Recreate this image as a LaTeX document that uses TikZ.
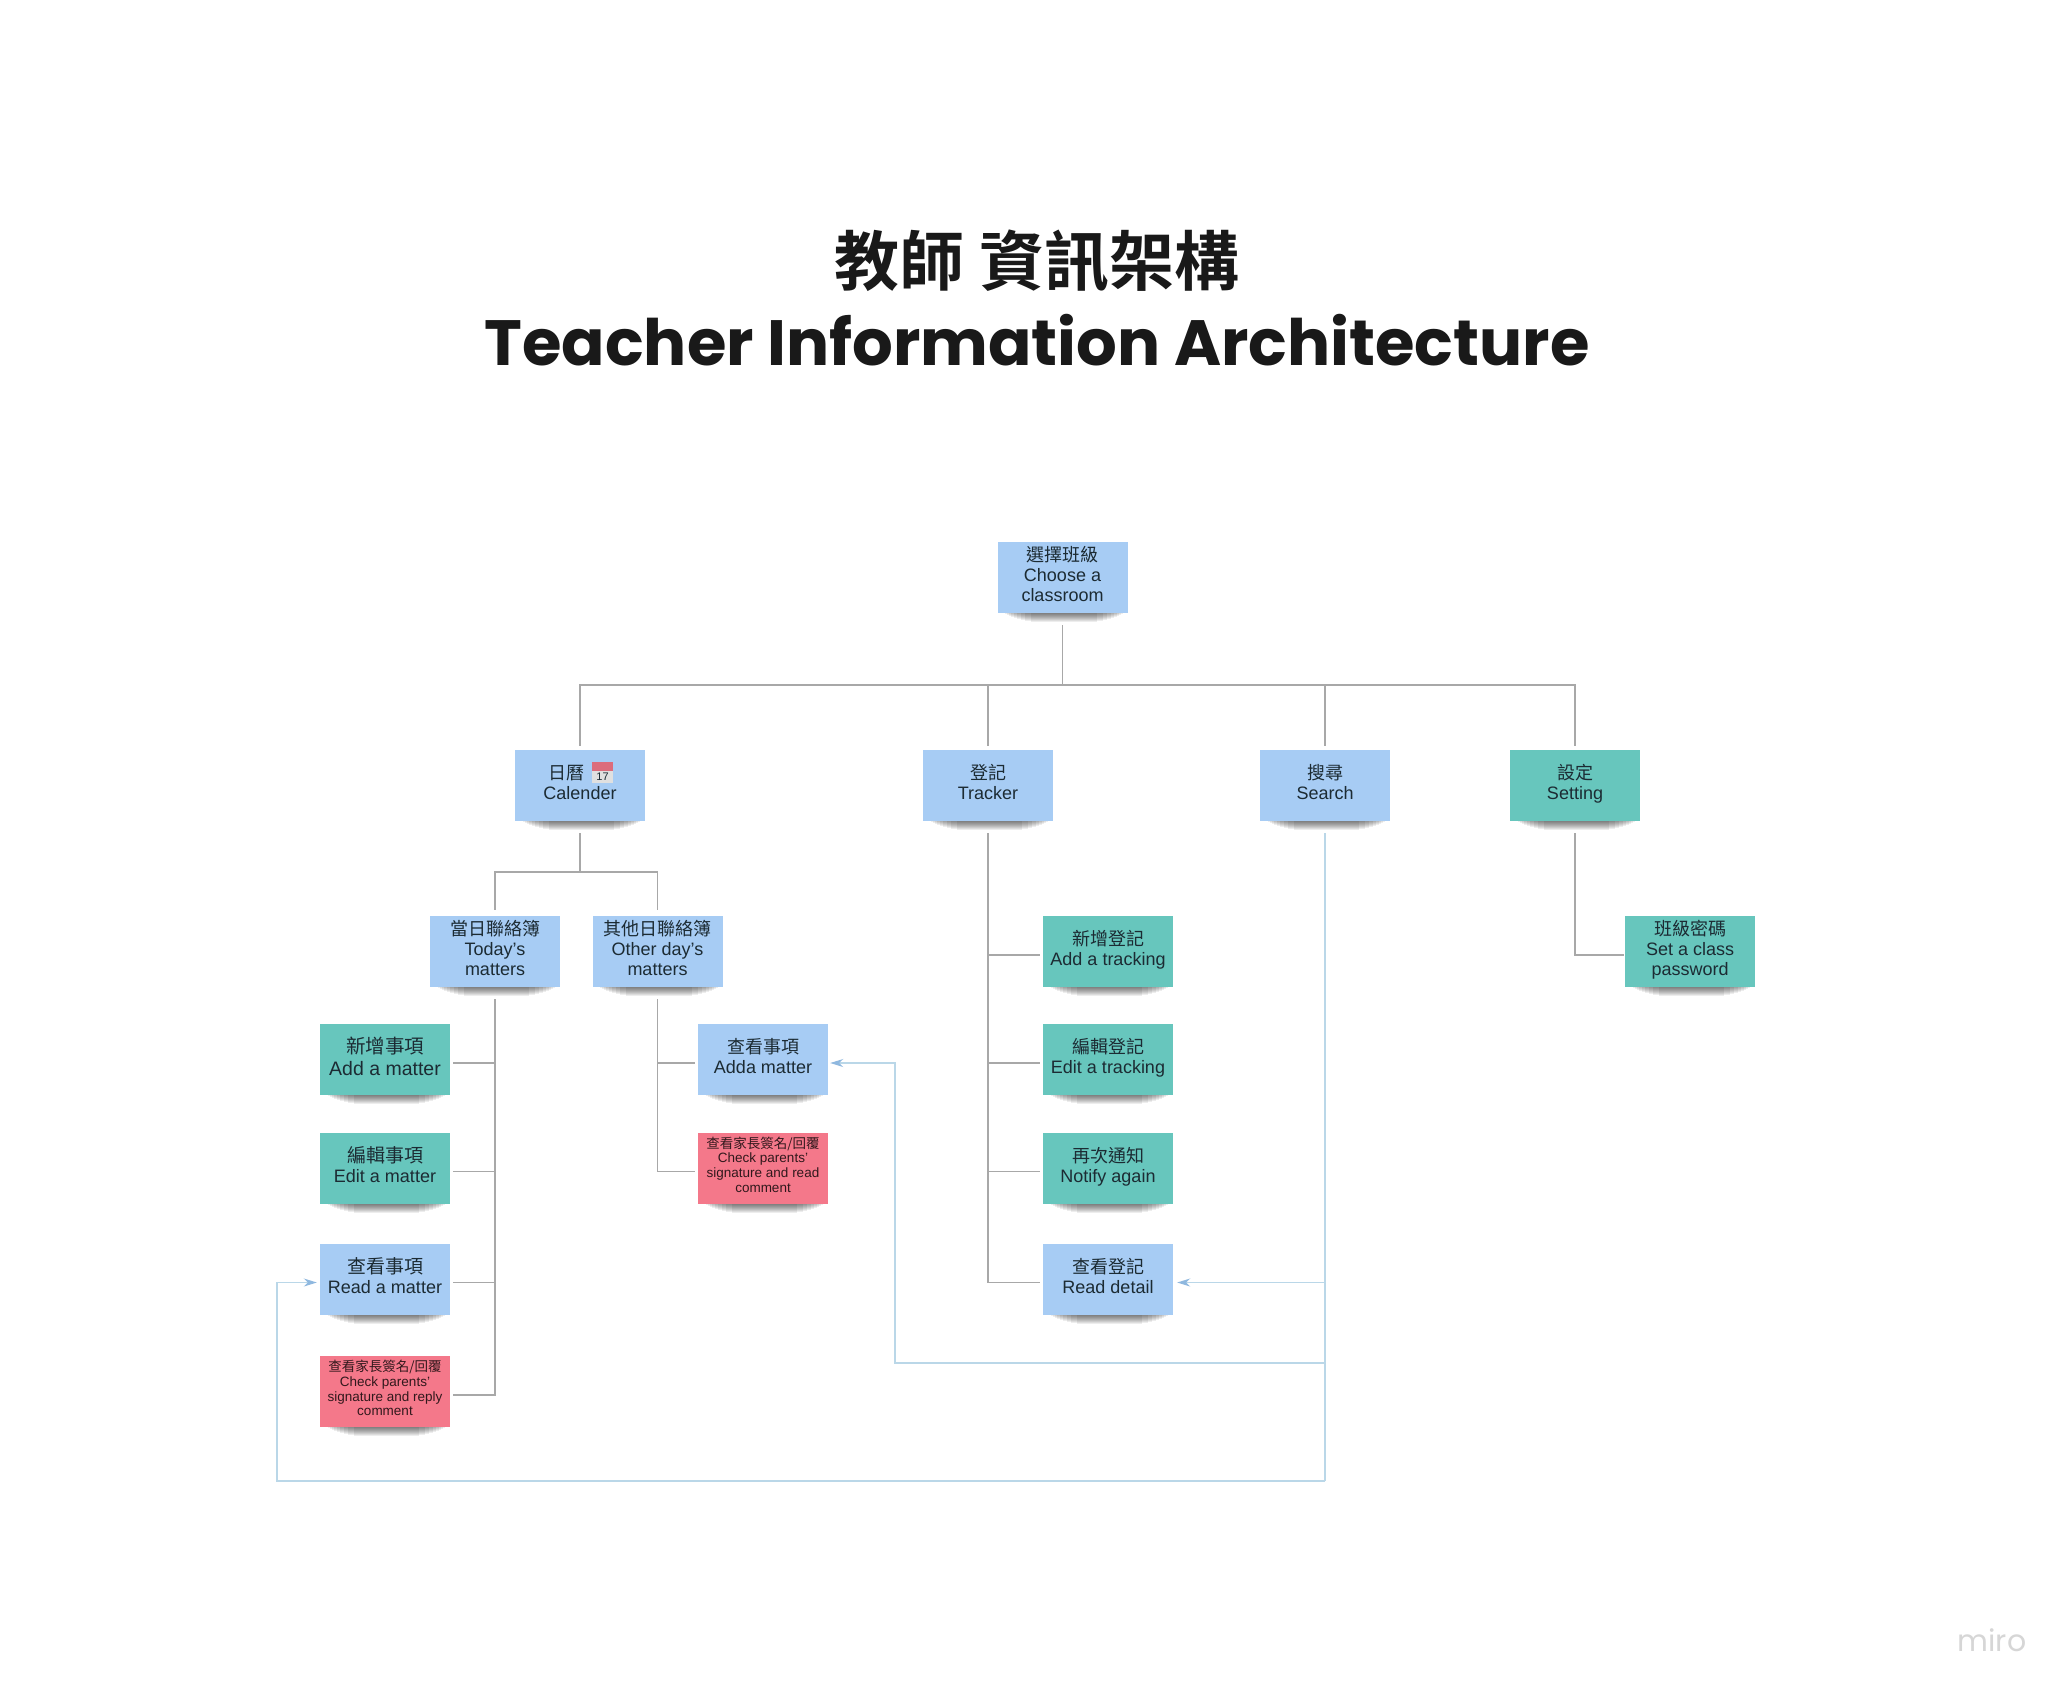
\documentclass[tikz,border=0pt]{standalone}
\usepackage{fontspec}
\setmainfont{Liberation Sans}
\newfontfamily\cjk{Noto Sans CJK TC}
\newfontfamily\cjkb{Noto Sans CJK TC}[BoldFont={Noto Sans CJK TC Bold}]
\newfontfamily\titlefont{Poppins}[BoldFont={Poppins Bold}]
\newfontfamily\wmfont{Poppins}
\usetikzlibrary{arrows.meta,backgrounds}
\definecolor{stickyblue}{HTML}{A7CCF4}
\definecolor{stickyteal}{HTML}{67C6BD}
\definecolor{stickypink}{HTML}{F4788A}
\definecolor{inkdark}{HTML}{1C2B33}
\definecolor{linegrey}{HTML}{A8A8A8}
\definecolor{lineblue}{HTML}{BAD7E8}
\definecolor{tipblue}{HTML}{8FB8DF}
\tikzset{
  x=1pt,y=1pt,
  sticky/.style={minimum width=130pt,minimum height=71pt,inner sep=0pt,align=center,text=inkdark,
    font=\fontsize{18}{20}\selectfont,
    execute at end node={\rule[-7pt]{0pt}{7pt}}},
  bluenote/.style={sticky,fill=stickyblue},
  tealnote/.style={sticky,fill=stickyteal},
  pinknote/.style={sticky,fill=stickypink,text=black!80!stickypink,font=\fontsize{13.5}{14.6}\selectfont},
  largetext/.style={font=\fontsize{19.5}{22}\selectfont},
  gline/.style={draw=linegrey,line width=1.25pt},
  bline/.style={draw=lineblue,line width=1.25pt},
  barrow/.style={bline,-{Stealth[length=13pt,width=8pt,color=tipblue]}},
  softshadow/.style={fill=black,opacity=.07},
}
\begin{document}
\begin{tikzpicture}
\useasboundingbox (0,0) rectangle (2072,-1698);

% title
\node[font=\fontsize{65}{70}\selectfont\cjkb\bfseries,text=black!90] (titlezh) at (1037,-261) {教師 資訊架構};
\node[font=\fontsize{64}{70}\selectfont\titlefont\bfseries,text=black!90] (titleen) at (1037,-340) {Teacher Information Architecture};

% level 0, 1
\node[bluenote] (choose) at (1062.5,-577.5) {{\cjk 選擇班級}\\Choose a\\classroom};
\node[bluenote] (calendar) at (580,-785.5) {{\cjk 日曆}\hspace{27pt}\mbox{}\\Calender};
\node[bluenote] (tracker) at (988,-785.5) {{\cjk 登記}\\Tracker};
\node[bluenote] (search) at (1325,-785.5) {{\cjk 搜尋}\\Search};
\node[tealnote] (setting) at (1575,-785.5) {{\cjk 設定}\\Setting};

% calendar icon
\fill[fill=black!12] (592,-768) rectangle (613,-783);
\fill[fill=stickypink!90!black] (592,-762) rectangle (613,-771);
\node[inner sep=0pt,font=\fontsize{11}{11}\selectfont,text=inkdark] (iconday) at (602.5,-777) {17};

% level 2
\node[bluenote] (today) at (495,-951.5) {{\cjk 當日聯絡簿}\\Today's\\matters};
\node[bluenote] (other) at (657.5,-951.5) {{\cjk 其他日聯絡簿}\\Other day's\\matters};
\node[tealnote] (addtrack) at (1108,-951.5) {{\cjk 新增登記}\\Add a tracking};
\node[tealnote] (classpw) at (1690,-951.5) {{\cjk 班級密碼}\\Set a class\\password};

% left column
\node[tealnote,largetext] (addmatter) at (385,-1059.5) {{\cjk 新增事項}\\Add a matter};
\node[tealnote] (editmatter) at (385,-1168) {{\cjk\fontsize{19}{22}\selectfont 編輯事項}\\Edit a matter};
\node[bluenote] (readmatter) at (385,-1279) {{\cjk\fontsize{19}{22}\selectfont 查看事項}\\Read a matter};
\node[pinknote] (replymatter) at (385,-1391.5) {{\cjk 查看家長簽名/回覆}\\Check parents'\\signature and reply\\comment};

% other day column
\node[bluenote] (addamatter) at (763,-1059.5) {{\cjk 查看事項}\\Adda matter};
\node[pinknote] (readcomment) at (763,-1168) {{\cjk 查看家長簽名/回覆}\\Check parents'\\signature and read\\comment};

% tracker column
\node[tealnote] (edittrack) at (1108,-1059.5) {{\cjk 編輯登記}\\Edit a tracking};
\node[tealnote] (notify) at (1108,-1168) {{\cjk 再次通知}\\Notify again};
\node[bluenote] (readdetail) at (1108,-1279) {{\cjk 查看登記}\\Read detail};

% sticky shadows
\begin{scope}[on background layer]
\fill[white] (0,0) rectangle (2072,-1698);
\foreach \n in {choose,calendar,tracker,search,setting,today,other,addtrack,classpw,addmatter,editmatter,readmatter,replymatter,addamatter,readcomment,edittrack,notify,readdetail}{
  \foreach \ix/\dy in {8/1,10/2,12/3,14/4,17/5,20/6,24/7,28/8,34/9}{
    \fill[softshadow] ([xshift=\ix pt]\n.south west) rectangle ([xshift=-\ix pt+3pt,yshift=-\dy pt]\n.south east);
  }
}
\end{scope}

% junctions
\coordinate (rootbar) at (choose.center |- 0,-685);
\coordinate (calbar) at (calendar.center |- 0,-872);
\coordinate (bluebottom) at (search.center |- 0,-1481);
\coordinate (blueleft) at (277,-1481);
\coordinate (bluemid) at (search.center |- 0,-1363);
\coordinate (bluemidleft) at (895,-1363);

% grey tree
\draw[gline,shorten <=12pt] (choose.south) -- (rootbar);
\draw[gline,shorten >=4pt] (rootbar) -| (calendar.north);
\draw[gline,shorten >=4pt] (rootbar) -| (tracker.north);
\draw[gline,shorten >=4pt] (rootbar) -| (search.north);
\draw[gline,shorten >=4pt] (rootbar) -| (setting.north);

\draw[gline,shorten <=12pt] (calendar.south) -- (calbar);
\draw[gline,shorten >=6pt] (calbar) -| (today.north);
\draw[gline,shorten >=6pt] (calbar) -| (other.north);

\foreach \n in {addmatter,editmatter,readmatter,replymatter}
  \draw[gline,shorten <=12pt,shorten >=3pt] (today.south) |- ([yshift=-3.5pt]\n.east);
\foreach \n in {addamatter,readcomment}
  \draw[gline,shorten <=12pt,shorten >=3pt] (other.south) |- ([yshift=-3.5pt]\n.west);
\foreach \n in {addtrack,edittrack,notify,readdetail}
  \draw[gline,shorten <=12pt,shorten >=3pt] (tracker.south) |- ([yshift=-3.5pt]\n.west);
\draw[gline,shorten <=12pt,shorten >=1pt] (setting.south) |- ([yshift=-3.5pt]classpw.west);

% blue links
\draw[bline,shorten <=12pt] (search.south) -- (bluebottom);
\draw[barrow,shorten >=3pt] (bluebottom) -- (blueleft) |- ([yshift=-3.5pt]readmatter.west);
\draw[barrow,shorten >=2pt] (bluemid) -- (bluemidleft) |- ([yshift=-3.5pt]addamatter.east);
\draw[barrow,shorten >=4pt] (search.center |- readdetail.east) ++(0,-3.5pt) coordinate (bluedetail) -- ([yshift=-3.5pt]readdetail.east);

% watermark
\node[font=\fontsize{30}{30}\selectfont\wmfont,text=black!16] (watermark) at (1992,-1640) {miro};
\end{tikzpicture}
\end{document}
